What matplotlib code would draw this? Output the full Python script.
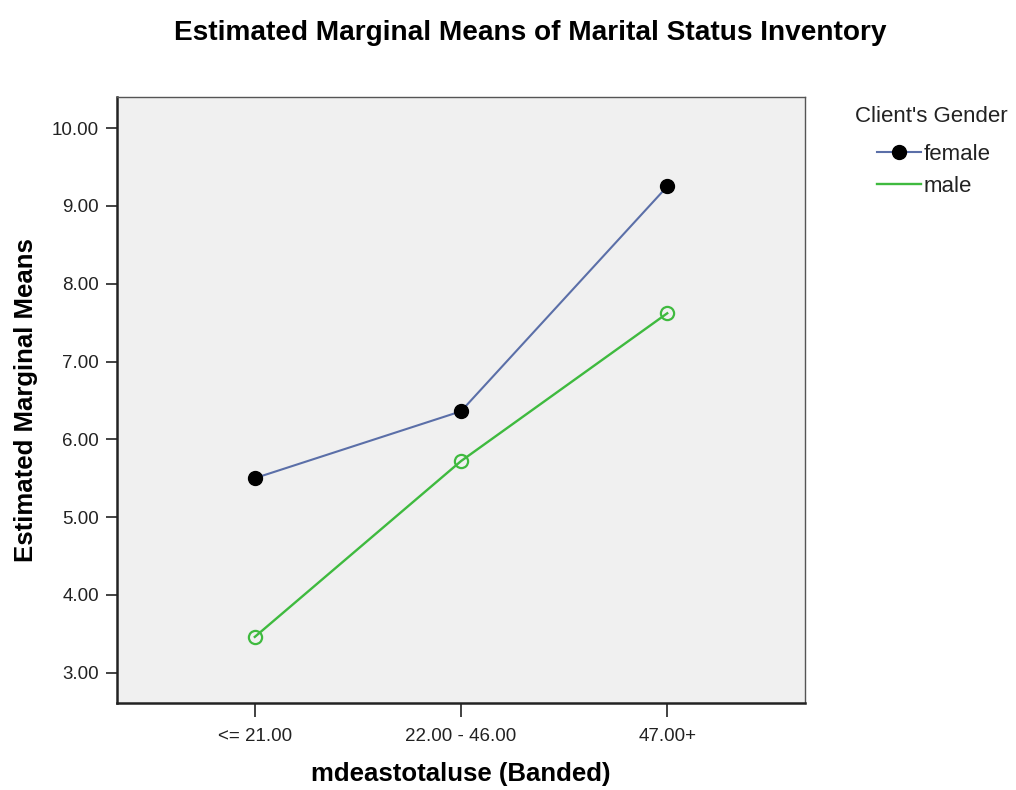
import matplotlib
matplotlib.use("Agg")
import matplotlib.pyplot as plt
from matplotlib.lines import Line2D

plt.rcParams['font.family'] = ['Liberation Sans', 'DejaVu Sans']

# data
bands = ["<= 21.00", "22.00 - 46.00", "47.00+"]
female_means = [5.50, 6.36, 9.25]
male_means = [3.46, 5.72, 7.62]
y_ticks = [3, 4, 5, 6, 7, 8, 9, 10]

FEMALE = "#5b6fa8"
MALE = "#3fba3f"

fig = plt.figure(figsize=(10.16, 7.9), dpi=100)
ax = fig.add_axes([0.1152, 0.1101, 0.6771, 0.7671])
ax.set_facecolor("#f0f0f0")

x = list(range(len(bands)))
ax.plot(x, female_means, color=FEMALE, lw=1.5, marker="o", ms=10,
        mfc="black", mec="black", zorder=3)
ax.plot(x, male_means, color=MALE, lw=1.7, marker="o", ms=9.5,
        mfc="none", mec=MALE, mew=1.6, zorder=3)

ax.set_xlim(-0.668, 2.668)
ax.set_ylim(2.61, 10.40)
ax.set_xticks(x)
ax.set_xticklabels(bands)
ax.set_yticks(y_ticks)
ax.set_yticklabels(["%.2f" % v for v in y_ticks])
ax.tick_params(axis="both", labelsize=13.5, colors="#222222", width=1.2)
ax.tick_params(axis="y", length=8, pad=5)
ax.tick_params(axis="x", length=10, pad=8)

for s in ["left", "bottom"]:
    ax.spines[s].set_linewidth(1.8)
    ax.spines[s].set_color("#222222")
for s in ["top", "right"]:
    ax.spines[s].set_linewidth(1.0)
    ax.spines[s].set_color("#555555")

ax.set_ylabel("Estimated Marginal Means", fontsize=18.5, fontweight="bold", labelpad=10)
ax.set_xlabel("mdeastotaluse (Banded)", fontsize=18.5, fontweight="bold", labelpad=12)
fig.suptitle("Estimated Marginal Means of Marital Status Inventory",
             fontsize=20.2, fontweight="bold", x=0.5217, y=0.975)

# legend: title placed on its own, entries indented under it
fig.text(855 / 1016, 1 - 117 / 790, "Client's Gender", fontsize=16,
         ha="left", va="center", color="#222222")
handles = [
    Line2D([], [], color=FEMALE, lw=1.5, marker="o", ms=10, mfc="black", mec="black"),
    Line2D([], [], color=MALE, lw=1.7),
]
fig.legend(handles, ["female", "male"], loc="upper left",
           bbox_to_anchor=(868 / 1016, 1 - 135 / 790), frameon=False,
           fontsize=16, handlelength=2.0, labelspacing=0.5,
           handletextpad=0.1, borderaxespad=0, labelcolor="#222222")

fig.savefig("out.png", dpi=100, facecolor="white")
